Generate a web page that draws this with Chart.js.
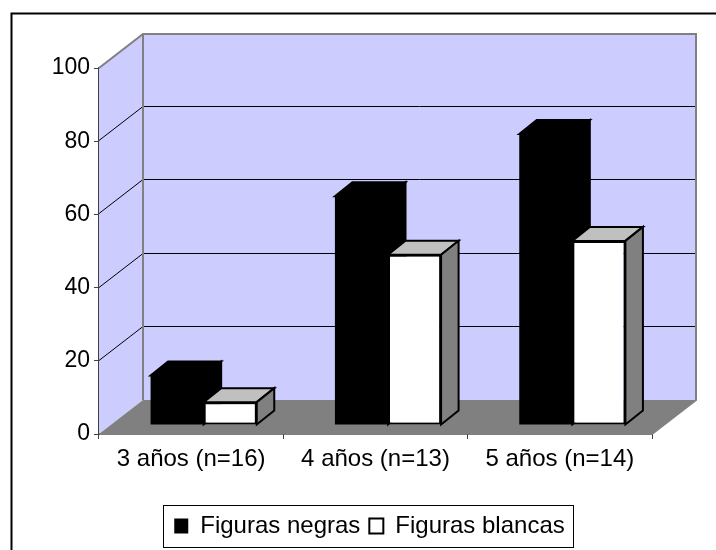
<!DOCTYPE html>
<html>
<head>
<meta charset="utf-8">
<title>Figuras</title>
<script src="https://cdn.jsdelivr.net/npm/chart.js@4"></script>
<style>
	html, body { margin: 0; padding: 0; background: #fff; }
	canvas { display: block; }
</style>
</head>
<body>
<canvas id="chart" width="716" height="550"></canvas>
<script>
const categories = ["3 años (n=16)", "4 años (n=13)", "5 años (n=14)"];
const figurasNegras = [13.5, 62.5, 79.5];
const figurasBlancas = [6.25, 46.5, 50.3];
const yTicks = [0, 20, 40, 60, 80, 100];

// oblique projection of the excel 3d look
const wallDx = 44;
const wallDy = 34;
const barLiftDx = 12.5;
const barLiftDy = 9;
const barDepthDx = 17.5;
const barDepthDy = 14;
const legendShift = 33;

const faceColors = [
	{ top: "#000000", side: "#000000" },
	{ top: "#c0c0c0", side: "#808080" },
];

const poly = (ctx, pts, fill, stroke, width) => {
	ctx.beginPath();
	pts.forEach((p, i) => (i ? ctx.lineTo(p[0], p[1]) : ctx.moveTo(p[0], p[1])));
	ctx.closePath();
	if (fill) {
		ctx.fillStyle = fill;
		ctx.fill();
	}
	if (stroke) {
		ctx.strokeStyle = stroke;
		ctx.lineWidth = width;
		ctx.stroke();
	}
};

const line = (ctx, pts, color, width) => {
	ctx.beginPath();
	pts.forEach((p, i) => (i ? ctx.lineTo(p[0], p[1]) : ctx.moveTo(p[0], p[1])));
	ctx.strokeStyle = color;
	ctx.lineWidth = width;
	ctx.stroke();
};

const box3d = {
	id: "box3d",
	beforeDraw(chart) {
		// the legend is centred under the whole plot with its walls, not under the axis
		chart.legend.left += legendShift;
		chart.legend.right += legendShift;
	},
	beforeDatasetsDraw(chart) {
		const ctx = chart.ctx;
		const { left, right, bottom } = chart.chartArea;
		const y = chart.scales.y;
		const top = y.getPixelForValue(100);
		const base = y.getPixelForValue(0);

		ctx.save();
		// walls
		poly(ctx, [[left + wallDx, top - wallDy], [right + wallDx, top - wallDy], [right + wallDx, base - wallDy], [left + wallDx, base - wallDy]], "#ccccff");
		poly(ctx, [[left, base], [left + wallDx, base - wallDy], [left + wallDx, top - wallDy], [left, top]], "#ccccff");

		// grid lines
		yTicks.slice(1, -1).forEach((v) => {
			const py = Math.round(y.getPixelForValue(v)) - 0.5;
			line(ctx, [[left, py], [left + wallDx, py - wallDy], [right + wallDx, py - wallDy]], "#000000", 1);
		});

		// floor
		poly(ctx, [[left, bottom], [right, bottom], [right + wallDx, bottom - wallDy], [left + wallDx, bottom - wallDy]], "#808080");

		// wall edges
		line(ctx, [[left, top], [left + wallDx, top - wallDy], [right + wallDx, top - wallDy], [right + wallDx, base - wallDy], [right, base]], "#808080", 2);
		line(ctx, [[left + wallDx, top - wallDy], [left + wallDx, base - wallDy]], "#808080", 2);
		ctx.restore();
	},
	// chart.js paints dataset 0 last, here the white bars have to sit in front
	beforeDatasetDraw() {
		return false;
	},
	afterDatasetsDraw(chart) {
		const ctx = chart.ctx;
		chart.data.datasets.forEach((ds, index) => {
			const meta = chart.getDatasetMeta(index);
			const colors = faceColors[index];
			ctx.save();
			ctx.translate(barLiftDx, -barLiftDy);
			meta.data.forEach((bar) => {
				const l = bar.x - bar.width / 2;
				const r = bar.x + bar.width / 2;
				poly(ctx, [[l, bar.y], [l + barDepthDx, bar.y - barDepthDy], [r + barDepthDx, bar.y - barDepthDy], [r, bar.y]], colors.top, "#000000", 2);
				poly(ctx, [[r, bar.y], [r + barDepthDx, bar.y - barDepthDy], [r + barDepthDx, bar.base - barDepthDy], [r, bar.base]], colors.side, "#000000", 2);
			});
			meta.controller.draw();
			ctx.restore();
		});
	},
	afterDraw(chart) {
		const ctx = chart.ctx;
		// legend frame
		const boxes = chart.legend.legendHitBoxes;
		const first = boxes[0];
		const last = boxes[boxes.length - 1];
		ctx.save();
		ctx.strokeStyle = "#000000";
		ctx.lineWidth = 1;
		ctx.strokeRect(Math.round(first.left + legendShift) - 10.5, chart.legend.top + 0.5, Math.round(last.left + last.width - first.left) + 20, chart.legend.height - 1);
		// outer chart frame, cut off by the picture on the right and bottom
		line(ctx, [[11.5, 550], [11.5, 13.5], [716, 13.5]], "#000000", 2);
		ctx.restore();
	},
};

new Chart(document.getElementById("chart"), {
	type: "bar",
	data: {
		labels: categories,
		datasets: [
			{
				label: "Figuras negras",
				data: figurasNegras,
				backgroundColor: "#000000",
				borderColor: "#000000",
				borderWidth: 0,
				clip: false,
			},
			{
				label: "Figuras blancas",
				data: figurasBlancas,
				backgroundColor: "#ffffff",
				borderColor: "#000000",
				borderWidth: 2,
				borderSkipped: false,
				clip: false,
			},
		],
	},
	options: {
		responsive: false,
		animation: false,
		layout: { padding: { left: 21, top: 68, right: 64, bottom: 2 } },
		font: { family: "'Liberation Sans', Arial, sans-serif", size: 18 },
		datasets: { bar: { categoryPercentage: 0.576, barPercentage: 1 } },
		scales: {
			x: {
				afterFit: (s) => { s.height = 71; },
				border: { color: "#000000", width: 1.5 },
				grid: { drawOnChartArea: false, drawTicks: true, tickLength: 5, color: "#404040" },
				ticks: { color: "#000000", padding: 6, maxRotation: 0, font: { size: 24 } },
			},
			y: {
				min: 0,
				max: 100,
				afterFit: (s) => { s.width = 78; },
				afterBuildTicks: (s) => { s.ticks = yTicks.map((value) => ({ value })); },
				border: { color: "#404040", width: 1.5 },
				grid: { drawOnChartArea: false, drawTicks: true, tickLength: 5, color: "#404040" },
				ticks: { color: "#000000", padding: 4, font: { size: 23 } },
			},
		},
		plugins: {
			tooltip: { enabled: false },
			legend: {
				position: "bottom",
				labels: {
					color: "#000000",
					boxWidth: 14,
					boxHeight: 15,
					padding: 9,
					font: { size: 24 },
				},
			},
		},
	},
	plugins: [box3d],
});
</script>
</body>
</html>
